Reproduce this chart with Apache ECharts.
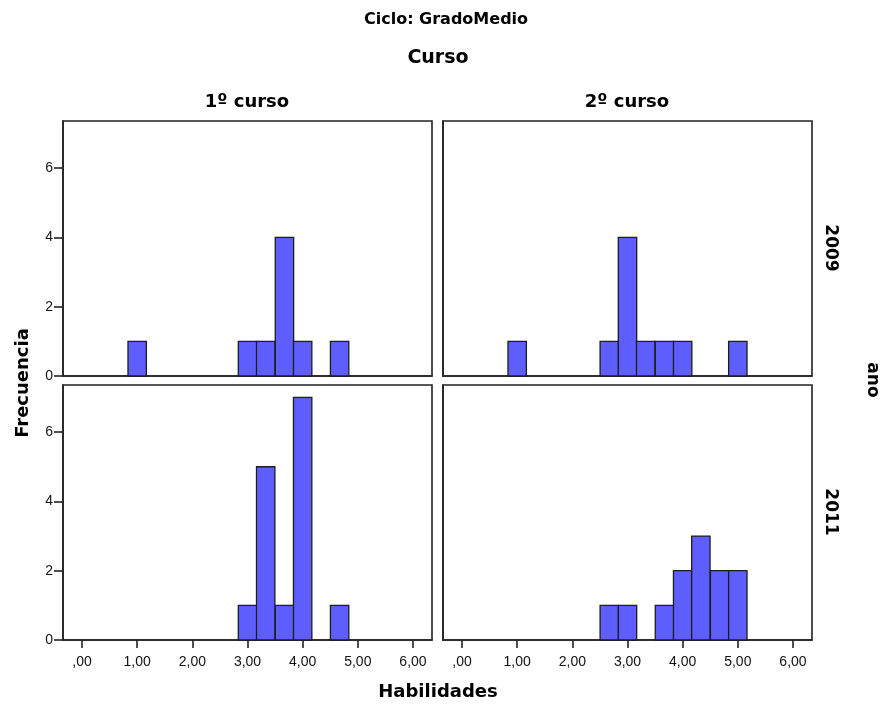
<!DOCTYPE html>
<html>
<head>
    <title>Habilidades - GradoMedio</title>
    <script src="https://cdn.jsdelivr.net/npm/echarts@6/dist/echarts.min.js"></script>
</head>
<body style="margin:0; background:#fff">
    <div id="chart" style="width:880px; height:704px"></div>

    <script>
        // bin width of the histogram (Habilidades)
        const binWidth = 1 / 3;

        // bin centres and counts, per panel (curso x ano)
        const centers1_2009 = [1.00, 3.00, 3.33, 3.67, 4.00, 4.67];
        const counts1_2009  = [1, 1, 1, 4, 1, 1];
        const centers2_2009 = [1.00, 2.67, 3.00, 3.33, 3.67, 4.00, 5.00];
        const counts2_2009  = [1, 1, 4, 1, 1, 1, 1];
        const centers1_2011 = [3.00, 3.33, 3.67, 4.00, 4.67];
        const counts1_2011  = [1, 5, 1, 7, 1];
        const centers2_2011 = [2.67, 3.00, 3.67, 4.00, 4.33, 4.67, 5.00];
        const counts2_2011  = [1, 1, 1, 2, 3, 2, 2];

        const xTickValues = [0, 1, 2, 3, 4, 5, 6];
        const xTickLabels = [',00', '1,00', '2,00', '3,00', '4,00', '5,00', '6,00'];
        const yTickValues = [0, 2, 4, 6];

        const cursos = ['1º curso', '2º curso'];
        const anos = ['2009', '2011'];

        const font = 'DejaVu Sans';
        const tickFont = 'Liberation Sans';
        const barColor = '#5e5eff';
        const frameColor = '#222';

        let chart = echarts.init(document.getElementById('chart'));

        // panel layout: [left, top] for each grid
        const panels = [
            { left: 63,  top: 121, centers: centers1_2009, counts: counts1_2009, col: 0, row: 0 },
            { left: 443, top: 121, centers: centers2_2009, counts: counts2_2009, col: 1, row: 0 },
            { left: 63,  top: 385, centers: centers1_2011, counts: counts1_2011, col: 0, row: 1 },
            { left: 443, top: 385, centers: centers2_2011, counts: counts2_2011, col: 1, row: 1 }
        ];

        function renderBar(params, api) {
            let x = api.value(0), y = api.value(1);
            let p0 = api.coord([x - binWidth / 2, y]);
            let p1 = api.coord([x + binWidth / 2, 0]);
            return {
                type: 'rect',
                shape: { x: p0[0], y: p0[1], width: p1[0] - p0[0], height: p1[1] - p0[1] },
                style: { fill: barColor, stroke: '#1c1c1c', lineWidth: 1.3 }
            };
        }

        let grids = [], xAxes = [], yAxes = [], series = [];
        panels.forEach((p, i) => {
            grids.push({
                left: p.left, top: p.top, width: 369, height: 255,
                show: true, borderColor: frameColor, borderWidth: 1.6, backgroundColor: '#fff'
            });
            xAxes.push({
                type: 'value', gridIndex: i, min: -0.345, max: 6.345,
                splitLine: { show: false },
                axisLine: { show: true, onZero: false, lineStyle: { color: frameColor, width: 1.6 } },
                axisTick: {
                    show: p.row === 1, length: 8, customValues: xTickValues,
                    lineStyle: { color: frameColor, width: 1.6 }
                },
                axisLabel: {
                    show: p.row === 1, customValues: xTickValues, margin: 15,
                    fontFamily: tickFont, fontSize: 14, color: '#111',
                    formatter: v => xTickLabels[xTickValues.indexOf(v)]
                }
            });
            yAxes.push({
                type: 'value', gridIndex: i, min: 0, max: 7.36,
                splitLine: { show: false },
                axisLine: { show: true, onZero: false, lineStyle: { color: frameColor, width: 1.6 } },
                axisTick: {
                    show: p.col === 0, length: 9, customValues: yTickValues,
                    lineStyle: { color: frameColor, width: 1.6 }
                },
                axisLabel: {
                    show: p.col === 0, customValues: yTickValues, margin: 10,
                    fontFamily: tickFont, fontSize: 14, color: '#111'
                }
            });
            series.push({
                type: 'custom', xAxisIndex: i, yAxisIndex: i,
                renderItem: renderBar,
                encode: { x: 0, y: 1 },
                data: p.centers.map((c, k) => [c, p.counts[k]])
            });
        });

        function label(text, x, y, size, rotation) {
            return {
                type: 'text', x: x, y: y, rotation: rotation || 0,
                style: {
                    text: text, fontFamily: font, fontWeight: 'bold', fontSize: size,
                    fill: '#000', align: 'center', verticalAlign: 'middle'
                }
            };
        }

        let option = {
            animation: false,
            backgroundColor: '#fff',
            grid: grids,
            xAxis: xAxes,
            yAxis: yAxes,
            series: series,
            graphic: [
                label('Ciclo: GradoMedio', 446, 20, 16),
                label('Curso', 438, 58, 19),
                label(cursos[0], 247, 102, 18),
                label(cursos[1], 627, 102, 18),
                label(anos[0], 830, 248, 17, -Math.PI / 2),
                label(anos[1], 830, 512, 17, -Math.PI / 2),
                label('ano', 872, 380, 17, -Math.PI / 2),
                label('Frecuencia', 23, 383, 18, Math.PI / 2),
                label('Habilidades', 438, 692, 18)
            ]
        };

        chart.setOption(option);
    </script>
</body>
</html>
